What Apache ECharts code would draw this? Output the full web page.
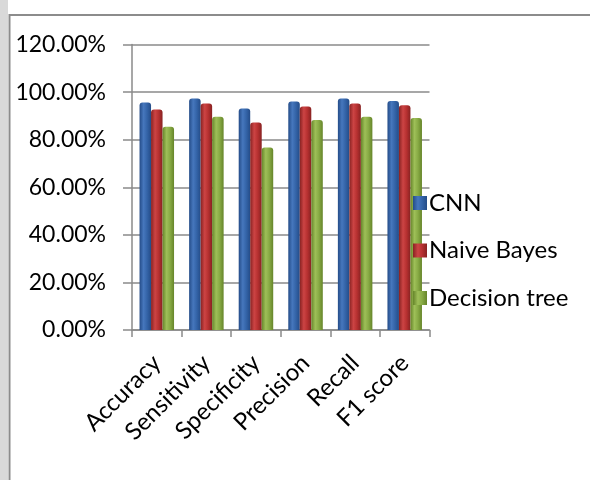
<!DOCTYPE html>
<html>
<head>
<meta charset="utf-8">
<script src="https://cdn.jsdelivr.net/npm/echarts@6/dist/echarts.min.js"></script>
<style>
html,body{margin:0;padding:0;background:#fff;}
#chart{width:590px;height:480px;}
</style>
</head>
<body>
<div id="chart"></div>
<script>
const categories = ["Accuracy", "Sensitivity", "Specificity", "Precision", "Recall", "F1 score"];
const cnnValues = [95.6, 97.3, 93.1, 96.0, 97.3, 96.3];
const naiveBayesValues = [92.7, 95.2, 87.2, 93.9, 95.2, 94.5];
const decisionTreeValues = [85.4, 89.6, 76.7, 88.3, 89.6, 89.1];
const yTicks = [0, 20, 40, 60, 80, 100, 120];

const FONT = 'Lato';
function grad(dark, mid, light) {
  return new echarts.graphic.LinearGradient(0, 0, 1, 0, [
    {offset: 0, color: dark},
    {offset: 0.35, color: light},
    {offset: 0.65, color: mid},
    {offset: 1, color: dark}
  ]);
}
const blue = grad('#244c88', '#3464a8', '#4677bd');
const red = grad('#882222', '#b73131', '#cc4444');
const green = grad('#66852a', '#88ab45', '#9ebf58');

const chart = echarts.init(document.getElementById('chart'), null, {renderer: 'canvas'});
const barBase = {type: 'bar', barWidth: 11.5, barGap: '0%', barCategoryGap: '30%'};
chart.setOption({
  animation: false,
  backgroundColor: '#ffffff',
  graphic: [
    {type: 'rect', left: 0, top: 0, shape: {width: 8, height: 480}, style: {fill: '#d9d9d9'}, z: -10},
    {type: 'rect', shape: {x: 9.5, y: 15, width: 600, height: 480}, style: {fill: 'none', stroke: '#8c8c8c', lineWidth: 2}, z: -5}
  ],
  grid: {left: 132, right: 160.5, top: 44.5, bottom: 150, containLabel: false},
  legend: {
    orient: 'vertical', left: 408, top: 186,
    itemWidth: 14, itemHeight: 14, itemGap: 23.5,
    icon: 'rect',
    textStyle: {fontFamily: FONT, fontSize: 24, color: '#000', lineHeight: 24, padding: [0, 0, 0, -3]},
    data: ['CNN', 'Naive Bayes', 'Decision tree']
  },
  xAxis: {
    type: 'category', data: categories,
    axisLine: {lineStyle: {color: '#8a8a8a', width: 1.5}},
    axisTick: {show: true, length: 7, lineStyle: {color: '#8a8a8a', width: 1.5}},
    axisLabel: {rotate: 45, margin: 29, fontFamily: FONT, fontSize: 24, color: '#000'}
  },
  yAxis: {
    type: 'value', min: 0, max: 120, interval: 20,
    axisLine: {show: true, lineStyle: {color: '#8a8a8a', width: 1.5}},
    axisTick: {show: true, length: 9, lineStyle: {color: '#8a8a8a', width: 1.5}},
    splitLine: {lineStyle: {color: '#8a8a8a', width: 1.5}},
    axisLabel: {margin: 26, fontFamily: FONT, fontSize: 23, color: '#000',
      formatter: v => yTicks.includes(v) ? v.toFixed(2) + '%' : ''}
  },
  series: [
    Object.assign({}, barBase, {name: 'CNN', data: cnnValues, itemStyle: {color: blue, borderRadius: [3,3,0,0]}}),
    Object.assign({}, barBase, {name: 'Naive Bayes', data: naiveBayesValues, itemStyle: {color: red, borderRadius: [3,3,0,0]}}),
    Object.assign({}, barBase, {name: 'Decision tree', data: decisionTreeValues, itemStyle: {color: green, borderRadius: [3,3,0,0]}})
  ]
});
</script>
</body>
</html>
